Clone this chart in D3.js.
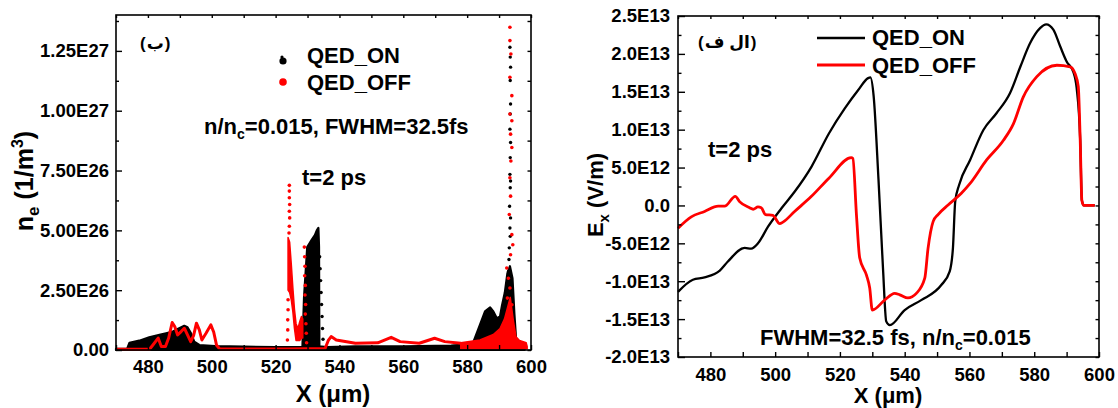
<!DOCTYPE html>
<html>
<head>
<meta charset="utf-8">
<script src="https://cdn.jsdelivr.net/npm/d3@7"></script>
<style>
  body { margin: 0; background: #fff; }
  svg text { font-family: Arial, "Liberation Sans", "DejaVu Sans", sans-serif; font-weight: bold; fill: #000; }
  .tick line { stroke: #000; stroke-width: 1.4; }
</style>
</head>
<body>
<svg id="chart" width="1118" height="408"></svg>
<script>
// ---- data ----
// shared x ticks (um)
const xTicks = [480, 500, 520, 540, 560, 580, 600];

// left panel: electron density, units of 1E26 1/m^3
const neTicks = [0, 2.5, 5, 7.5, 10, 12.5];
const neTickLabels = ["0.00", "2.50E26", "5.00E26", "7.50E26", "1.00E27", "1.25E27"];

// QED_ON: dense region read as [x, low, high]
const onBand = [
  [470, 0, 0.05], [473.5, 0, 0.06], [474.2, 0, 0.3], [477.3, 0, 0.39], [480.4, 0, 0.53],
  [483.6, 0, 0.63], [485.7, 0, 0.7], [487.8, 0, 0.77], [489.8, 0, 0.91], [491.4, 0, 1.01],
  [492.4, 0, 0.95], [493.5, 0, 0.7], [494.5, 0, 0.35], [496.1, 0, 0.21], [501, 0, 0.16],
  [510, 0, 0.14], [520, 0, 0.12], [528.4, 0, 0.12], [528.9, 0, 2.2], [529.9, 0, 4.3],
  [531.3, 0, 4.6], [532.3, 0, 4.8], [532.9, 0, 5.0], [533.4, 0, 5.1], [533.6, 0, 4.3],
  [533.7, 0, 0.15], [536, 0, 0.12], [545, 0, 0.15], [560, 0, 0.15], [575, 0, 0.18],
  [581, 0, 0.25], [582, 0, 0.35], [584, 0, 1.05], [585.6, 0, 1.61], [587.2, 0, 1.78],
  [588.2, 0, 1.61], [589.3, 0, 1.33], [590.3, 0, 1.4], [590.9, 0, 1.85], [591.8, 0, 2.4],
  [592.6, 0, 3.2], [593.4, 0, 3.5], [594.2, 0, 3.0], [594.8, 0, 1.5], [595.3, 0, 0.5],
  [596.5, 0, 0.3], [598, 0, 0.15]
];
// QED_ON: isolated points [x, value]
const onDots = [
  [533.8, 3.9], [533.95, 3.4], [534.1, 2.9], [534.25, 2.4], [534.4, 1.9], [534.55, 1.4],
  [534.7, 0.9], [534.85, 0.45],
  [593.4, 12.65], [593.5, 12.24], [593.6, 11.82], [593.5, 11.26], [593.6, 10.28],
  [593.5, 9.86], [593.4, 9.23], [593.6, 8.67], [593.5, 8.04], [593.4, 7.34], [593.6, 7.06],
  [593.5, 6.78], [593.3, 6.01], [593.6, 5.52], [593.4, 5.1], [593.5, 4.75], [593.2, 4.27],
  [593.1, 3.78], [593.0, 3.29], [593.6, 2.87]
];

// QED_OFF: trace [x, value]
const offLine = [
  [470, 0.03], [480.5, 0.03], [481.5, 0.2], [483.2, 0.5], [484.2, 0.15], [485.5, 0.15],
  [486.5, 0.5], [487.6, 1.15], [488.4, 0.98], [489.3, 0.63], [490.4, 0.77], [491.4, 0.91],
  [492.4, 0.63], [493.4, 0.35], [494.3, 0.6], [495.2, 1.12], [496.1, 0.84], [496.9, 0.42],
  [498.2, 0.7], [499.7, 1.05], [500.6, 0.75], [501.5, 0.2], [502.5, 0.04], [510, 0.04],
  [523.5, 0.04], [529.7, 0.05], [535.5, 0.06], [536.5, 0.4], [537.4, 0.56], [539, 0.42],
  [545, 0.28], [552, 0.3], [556.2, 0.53], [559, 0.35], [565, 0.28], [569.8, 0.49],
  [573, 0.35], [578, 0.28]
];
// QED_OFF: dense regions [x, low, high]
const offBandA = [
  [523.9, 2.5, 4.7], [524.4, 2.4, 4.5], [524.9, 2.1, 3.6], [525.4, 1.6, 2.6], [525.9, 0.9, 1.7],
  [526.4, 0.4, 1.1], [527.0, 0.4, 0.9], [527.6, 0.4, 1.2], [528.1, 0.5, 1.4], [528.5, 0.5, 1.3]
];
const offBandB = [
  [578, 0.05, 0.3], [584, 0.05, 0.42], [588.2, 0.05, 0.65], [590.3, 0.05, 0.9], [591.7, 0.05, 1.3],
  [592.7, 0.05, 1.8], [593.5, 0.05, 2.2], [594.4, 0.05, 1.3], [595.3, 0.05, 0.55],
  [596.4, 0.05, 0.4], [598.5, 0.05, 0.3], [598.8, 0.05, 0.15]
];
const offDots = [
  [524.3, 6.88], [524.3, 6.64], [524.3, 6.36], [524.4, 6.08], [524.3, 5.8], [524.4, 5.52],
  [524.3, 5.17], [524.2, 4.89], [523.9, 2.1], [523.9, 1.68], [523.8, 1.26], [523.8, 0.84],
  [523.7, 0.42],
  [529.0, 4.3], [529.1, 3.9], [529.2, 3.5], [529.1, 3.1], [529.3, 2.7], [529.2, 2.3],
  [529.4, 1.9], [529.3, 1.5], [529.5, 1.1], [529.6, 0.7], [529.7, 0.3],
  [593.4, 13.49], [593.4, 12.93], [593.7, 12.37], [593.4, 11.4], [594.0, 10.63], [593.4, 9.86],
  [594.0, 9.58], [593.6, 9.02], [594.0, 8.46], [593.7, 7.9], [593.4, 7.2], [593.6, 6.43],
  [593.2, 5.66], [594.0, 4.82], [594.3, 4.4], [593.6, 3.98], [592.4, 3.43], [592.9, 3.0],
  [593.4, 2.59], [592.6, 2.17], [594.0, 1.89]
];

// right panel: Ex field, units of 1E12 V/m
const exTicks = [-20, -15, -10, -5, 0, 5, 10, 15, 20, 25];
const exTickLabels = ["-2.0E13", "-1.5E13", "-1.0E13", "-5.0E12", "0.0", "5.0E12", "1.0E13", "1.5E13", "2.0E13", "2.5E13"];

const exOn = [
  [470, -11.4], [474.6, -9.8], [478.2, -9.5], [482.9, -8.6], [485.4, -7.4], [490.6, -5.6],
  [492.6, -5.7], [494.7, -5.0], [497.8, -2.8], [501.9, -0.4], [506, 1.8], [511.2, 5.1],
  [516.6, 9.5], [521.5, 12.8], [525.6, 15.2], [528.7, 16.8], [529.4, 16.9], [530.4, 14.5],
  [531.9, 3.5], [533.3, -8.3], [534.3, -15.3], [535.4, -15.8], [540, -13.8], [545.1, -12.5],
  [551.3, -10.5], [553.9, -8.7], [554.9, -5.6], [555.6, 0.5], [556.8, 2.7], [560.2, 6.0],
  [564.3, 9.96], [568.4, 12.2], [572.5, 14.8], [575.8, 18.4], [578.7, 21.4], [581.8, 23.4],
  [583.7, 23.9], [585.9, 23.2], [588, 21.0], [590, 19.0], [592.1, 17.6], [593.1, 15.5],
  [594.2, 8.6], [594.7, 0.7], [595.3, 0], [598.7, 0]
];
const exOff = [
  [470, -3.0], [474.1, -1.5], [478.2, -0.8], [482.4, -0.1], [484.4, -0.1], [487.7, 1.2],
  [489, 0.5], [492.1, -0.3], [493.2, -0.5], [494.7, -0.2], [495.7, -0.3], [497, -1.2],
  [499.3, -1.3], [501.4, -2.4], [502.4, -2.2], [506, -0.8], [511.2, 1.2], [516.6, 3.6],
  [523.5, 6.3], [524, 6.2], [525.1, -1.2], [526.1, -6.9], [528.2, -9.2], [529.2, -10.9],
  [530, -13.8], [533.8, -12.5], [536.9, -11.6], [538.5, -11.8], [541, -12.2], [543.6, -11.6],
  [546.2, -9.6], [547.2, -5.7], [548.8, -2.1], [550.3, -1.2], [553.4, 0.06], [557.5, 1.6],
  [560.2, 2.9], [565.3, 6.0], [570.5, 8.6], [573.6, 10.8], [576.6, 14.3], [580.8, 17.0],
  [587, 18.5], [591.1, 18.3], [592.6, 17.4], [593.6, 15.7], [594.2, 8.6], [594.7, 0.7],
  [595.3, 0], [598.7, 0]
];

// ---- drawing ----
const svg = d3.select("#chart");

const xL = d3.scaleLinear([470, 600], [116, 531]);
const yL = d3.scaleLinear([0, 14], [350, 15]);
const xR = d3.scaleLinear([470, 600], [678, 1099]);
const yR = d3.scaleLinear([-20, 25], [357, 16]);

// frame + inward ticks for one panel
function drawAxes(x, y, yTicks, yLabels, yMinorStep, yPad, xPad, tickLen) {
  const [x0, x1] = x.range();
  const [y0, y1] = y.range();
  const [d0, d1] = y.domain();
  const minor = d3.range(d0, d1 + 1e-9, yMinorStep).filter(v => !yTicks.includes(v));
  const tens = d3.range(470, 601, 10);

  const clean = g => { g.select(".domain").remove(); g.attr("font-family", null).attr("font-size", 18.5); };

  svg.append("g").attr("transform", `translate(${x0},0)`)
    .call(d3.axisLeft(y).tickValues(yTicks).tickFormat((d, i) => yLabels[i])
      .tickSizeInner(-tickLen).tickSizeOuter(0).tickPadding(yPad))
    .call(clean);
  svg.append("g").attr("transform", `translate(${x0},0)`)
    .call(d3.axisLeft(y).tickValues(minor).tickFormat("").tickSizeInner(-tickLen / 2).tickSizeOuter(0))
    .call(clean);
  // right side
  svg.append("g").attr("transform", `translate(${x1},0)`)
    .call(d3.axisRight(y).tickValues(d3.range(d0, d1 + 1e-9, yMinorStep)).tickFormat("").tickSizeInner(-3.5).tickSizeOuter(0))
    .call(clean);
  // bottom
  svg.append("g").attr("transform", `translate(0,${y0})`)
    .call(d3.axisBottom(x).tickValues(tens).tickFormat(d => xTicks.includes(d) ? d : "")
      .tickSizeInner(-5).tickSizeOuter(0).tickPadding(xPad))
    .call(clean);
  // top
  svg.append("g").attr("transform", `translate(0,${y1})`)
    .call(d3.axisTop(x).tickValues(tens).tickFormat("").tickSizeInner(-3).tickSizeOuter(0))
    .call(clean);

  svg.append("rect")
    .attr("x", x0).attr("y", y1).attr("width", x1 - x0).attr("height", y0 - y1)
    .attr("fill", "none").attr("stroke", "#000").attr("stroke-width", 1.6);
}

// ---------- left panel ----------
const gl = svg.append("g");
const bandArea = d3.area().x(d => xL(d[0])).y0(d => yL(d[1])).y1(d => yL(d[2]));

gl.append("path").datum(onBand).attr("d", bandArea)
  .attr("fill", "#000").attr("stroke", "#000").attr("stroke-width", 2.2).attr("stroke-linejoin", "round");
gl.selectAll("circle.on").data(onDots).join("circle").attr("class", "on")
  .attr("cx", d => xL(d[0])).attr("cy", d => yL(d[1])).attr("r", 1.7).attr("fill", "#000");

gl.append("path").datum(offLine)
  .attr("d", d3.line().x(d => xL(d[0])).y(d => yL(d[1])))
  .attr("fill", "none").attr("stroke", "#ff0000").attr("stroke-width", 3).attr("stroke-linejoin", "round");
[offBandA, offBandB].forEach(b => {
  gl.append("path").datum(b).attr("d", bandArea)
    .attr("fill", "#ff0000").attr("stroke", "#ff0000").attr("stroke-width", 1.5).attr("stroke-linejoin", "round");
});
gl.selectAll("circle.off").data(offDots).join("circle").attr("class", "off")
  .attr("cx", d => xL(d[0])).attr("cy", d => yL(d[1])).attr("r", 1.8).attr("fill", "#ff0000");

drawAxes(xL, yL, neTicks, neTickLabels, 1.25, 7, 10, 6);

// ---------- right panel ----------
const lineR = d3.line().x(d => xR(d[0])).y(d => yR(d[1])).curve(d3.curveMonotoneX);
svg.append("path").datum(exOn).attr("d", lineR)
  .attr("fill", "none").attr("stroke", "#000").attr("stroke-width", 2.3).attr("stroke-linejoin", "round");
svg.append("path").datum(exOff).attr("d", lineR)
  .attr("fill", "none").attr("stroke", "#ff0000").attr("stroke-width", 2.8).attr("stroke-linejoin", "round");

drawAxes(xR, yR, exTicks, exTickLabels, 2.5, 8, 11, 7);

// ---------- texts ----------
function label(x, y, size, parts, anchor) {
  const t = svg.append("text").attr("x", x).attr("y", y).attr("font-size", size)
    .attr("text-anchor", anchor || "start");
  parts.forEach(p => {
    const s = t.append("tspan").text(p.t);
    if (p.dy) s.attr("dy", p.dy);
    if (p.size) s.attr("font-size", p.size);
  });
  return t;
}

// panel tag in Arabic, parentheses kept as separate texts so bidi does not flip them
function arabicTag(x, y, size, str) {
  const a = svg.append("text").attr("x", x).attr("y", y).attr("font-size", size).text("(");
  const w1 = a.node().getComputedTextLength();
  const b = svg.append("text").attr("x", x + w1 + 1).attr("y", y).attr("font-size", size).text(str);
  const w2 = b.node().getComputedTextLength();
  svg.append("text").attr("x", x + w1 + w2 + 2).attr("y", y).attr("font-size", size).text(")");
}

// left annotations
arabicTag(140, 49, 17, "ب");
svg.append("circle").attr("cx", 283).attr("cy", 61).attr("r", 3.6).attr("fill", "#000");
svg.append("circle").attr("cx", 282).attr("cy", 57).attr("r", 1.6).attr("fill", "#000");
svg.append("circle").attr("cx", 283).attr("cy", 82).attr("r", 3.8).attr("fill", "#ff0000");
label(307, 63, 22, [{ t: "QED_ON" }]);
label(307, 90, 22, [{ t: "QED_OFF" }]);
label(204, 134, 22, [{ t: "n/n" }, { t: "c", size: 14, dy: 5 }, { t: "=0.015, FWHM=32.5fs", size: 22, dy: -5 }]);
label(302, 185, 22, [{ t: "t=2 ps" }]);

// right annotations
arabicTag(698, 48, 17, "ال ف");
svg.append("line").attr("x1", 817).attr("x2", 865).attr("y1", 38).attr("y2", 38)
  .attr("stroke", "#000").attr("stroke-width", 2.3);
svg.append("line").attr("x1", 817).attr("x2", 865).attr("y1", 65).attr("y2", 65)
  .attr("stroke", "#ff0000").attr("stroke-width", 2.8);
label(872, 45, 22, [{ t: "QED_ON" }]);
label(872, 73, 22, [{ t: "QED_OFF" }]);
label(708, 157, 22, [{ t: "t=2 ps" }]);
label(760, 345, 22, [{ t: "FWHM=32.5 fs, n/n" }, { t: "c", size: 14, dy: 5 }, { t: "=0.015", size: 22, dy: -5 }]);

// axis titles
label(333, 402, 24, [{ t: "X (μm)" }], "middle");
label(888, 403, 22, [{ t: "X (μm)" }], "middle");

label(0, 0, 25, [{ t: "n" }, { t: "e", size: 17, dy: 6 }, { t: " (1/m", size: 25, dy: -6 }, { t: "3", size: 16, dy: -10 }, { t: ")", size: 25, dy: 10 }], "middle")
  .attr("transform", "translate(33,181) rotate(-90)");
label(0, 0, 22, [{ t: "E" }, { t: "x", size: 15, dy: 6 }, { t: " (V/m)", size: 22, dy: -6 }], "middle")
  .attr("transform", "translate(603,195) rotate(-90)");
</script>
</body>
</html>
